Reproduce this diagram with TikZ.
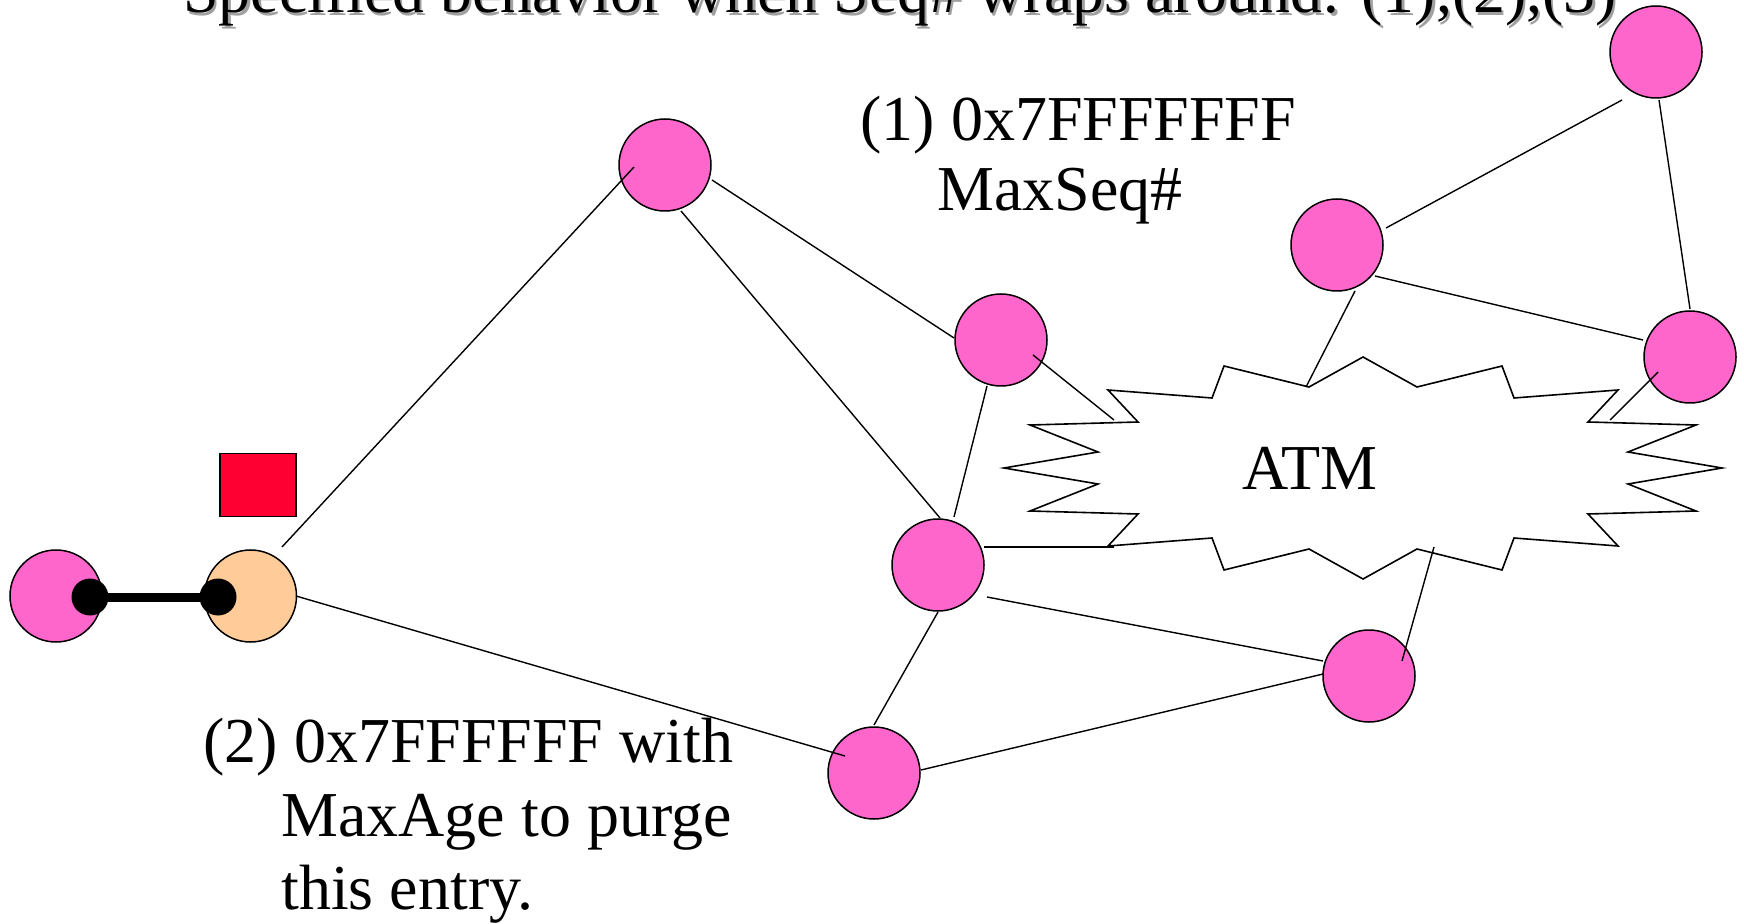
\documentclass[tikz,border=0pt]{standalone}
\usepackage{fontspec}
\setmainfont{Liberation Serif}
\definecolor{nodepink}{HTML}{FF66CC}
\definecolor{nodeorange}{HTML}{FFCC99}
\definecolor{flagred}{HTML}{FF0033}
\definecolor{shadowgray}{HTML}{A0A0A0}
\begin{document}
\begin{tikzpicture}[x=0.5pt,y=-0.5pt,
  pinknode/.style={circle,draw=black,line width=0.75pt,fill=nodepink,minimum size=46pt,inner sep=0pt},
  orangenode/.style={circle,draw=black,line width=0.75pt,fill=nodeorange,minimum size=46pt,inner sep=0pt},
  blackdot/.style={circle,fill=black,minimum size=18.5pt,inner sep=0pt},
  link/.style={draw=black,line width=0.7pt},
  lbl/.style={anchor=base west,inner sep=0pt,font=\fontsize{32}{36.5}\selectfont},
  burst/.style={draw=black,line width=0.8pt,fill=white,line join=miter}]
\useasboundingbox (0,0) rectangle (1744,924);
\clip (0,0) rectangle (1744,924);

% title with shadow
\node[lbl,text=shadowgray,font=\fontsize{31.9}{36}\selectfont] (titleshadow) at (185.5,15.5) {Specified behavior when Seq\# wraps around: (1),(2),(3)};
\node[lbl,font=\fontsize{31.9}{36}\selectfont] (title) at (183,13) {Specified behavior when Seq\# wraps around: (1),(2),(3)};

% nodes
\node[pinknode] (A) at (665,165) {};
\node[pinknode] (B) at (1656,52) {};
\node[pinknode] (C) at (1337,245) {};
\node[pinknode] (D) at (1001,340) {};
\node[pinknode] (E) at (1690,357) {};
\node[pinknode] (F) at (938,565) {};
\node[pinknode] (G) at (1369,676) {};
\node[pinknode] (H) at (874,773) {};
\node[pinknode] (L) at (56,596) {};
\node[orangenode] (O) at (250.5,596) {};
\node[draw=black,line width=0.75pt,fill=flagred,minimum width=38pt,minimum height=31.5pt,inner sep=0pt] (flag) at (258,485) {};

% ATM cloud
\begin{scope}[shift={(1363,468)}]
\draw[burst] (-359,0) -- (-265,-16) -- (-333,-43) -- (-225,-46) -- (-255,-78) -- (-151,-70) -- (-139,-102) -- (-54,-81) -- (0,-111) -- (54,-81) -- (139,-102) -- (151,-70) -- (255,-78) -- (225,-46) -- (333,-43) -- (265,-16) -- (359,0) -- (265,16) -- (333,43) -- (225,46) -- (255,78) -- (151,70) -- (139,102) -- (54,81) -- (0,111) -- (-54,81) -- (-139,102) -- (-151,70) -- (-255,78) -- (-225,46) -- (-333,43) -- (-265,16) -- cycle;
\end{scope}
\node[lbl] (atm) at (1242,489) {ATM};

% connector end points
\coordinate (oA) at (282,547);   \coordinate (aO) at (634,167);
\coordinate (oH) at (296,596);   \coordinate (hO) at (845,756);
\coordinate (aD) at (712,180);   \coordinate (dA) at (954,338);
\coordinate (aF) at (681,211);   \coordinate (fA) at (940,518);
\coordinate (dF) at (987,386);   \coordinate (fD) at (954,517);
\coordinate (dM) at (1033,355);  \coordinate (mD) at (1114,420);
\coordinate (fM) at (984,547);   \coordinate (mF) at (1114,547);
\coordinate (fG) at (987,597);   \coordinate (gF) at (1323,661);
\coordinate (fH) at (938,612);   \coordinate (hF) at (874,725);
\coordinate (hG) at (921,770);   \coordinate (gH) at (1323,674);
\coordinate (gM) at (1402,661);  \coordinate (mG) at (1434,547);
\coordinate (cM) at (1355,291);  \coordinate (mC) at (1306,387);
\coordinate (cB) at (1386,228);  \coordinate (bC) at (1622,100);
\coordinate (cE) at (1375,276);  \coordinate (eC) at (1643,340);
\coordinate (bE) at (1659,100);  \coordinate (eB) at (1690,309);
\coordinate (eM) at (1658,372);  \coordinate (mE) at (1610,420);

% connectors
\draw[link] (oA) -- (aO);
\draw[link] (oH) -- (hO);
\draw[link] (aD) -- (dA);
\draw[link] (aF) -- (fA);
\draw[link] (dF) -- (fD);
\draw[link] (dM) -- (mD);
\draw[link] (fM) -- (mF);
\draw[link] (fG) -- (gF);
\draw[link] (fH) -- (hF);
\draw[link] (hG) -- (gH);
\draw[link] (gM) -- (mG);
\draw[link] (cM) -- (mC);
\draw[link] (cB) -- (bC);
\draw[link] (cE) -- (eC);
\draw[link] (bE) -- (eB);
\draw[link] (eM) -- (mE);

% link between the two left routers
\node[blackdot] (d1) at (90,597) {};
\node[blackdot] (d2) at (218,597) {};
\draw[line width=4.5pt] (d1.center) -- (d2.center);

% labels
\node[lbl] (t1a) at (860,141) {(1) 0x7FFFFFFF};
\node[lbl] (t1b) at (937,211) {MaxSeq\#};
\node[lbl] (t2a) at (203,762) {(2) 0x7FFFFFF with};
\node[lbl] (t2b) at (281,836) {MaxAge to purge};
\node[lbl] (t2c) at (281,909) {this entry.};
\end{tikzpicture}
\end{document}
